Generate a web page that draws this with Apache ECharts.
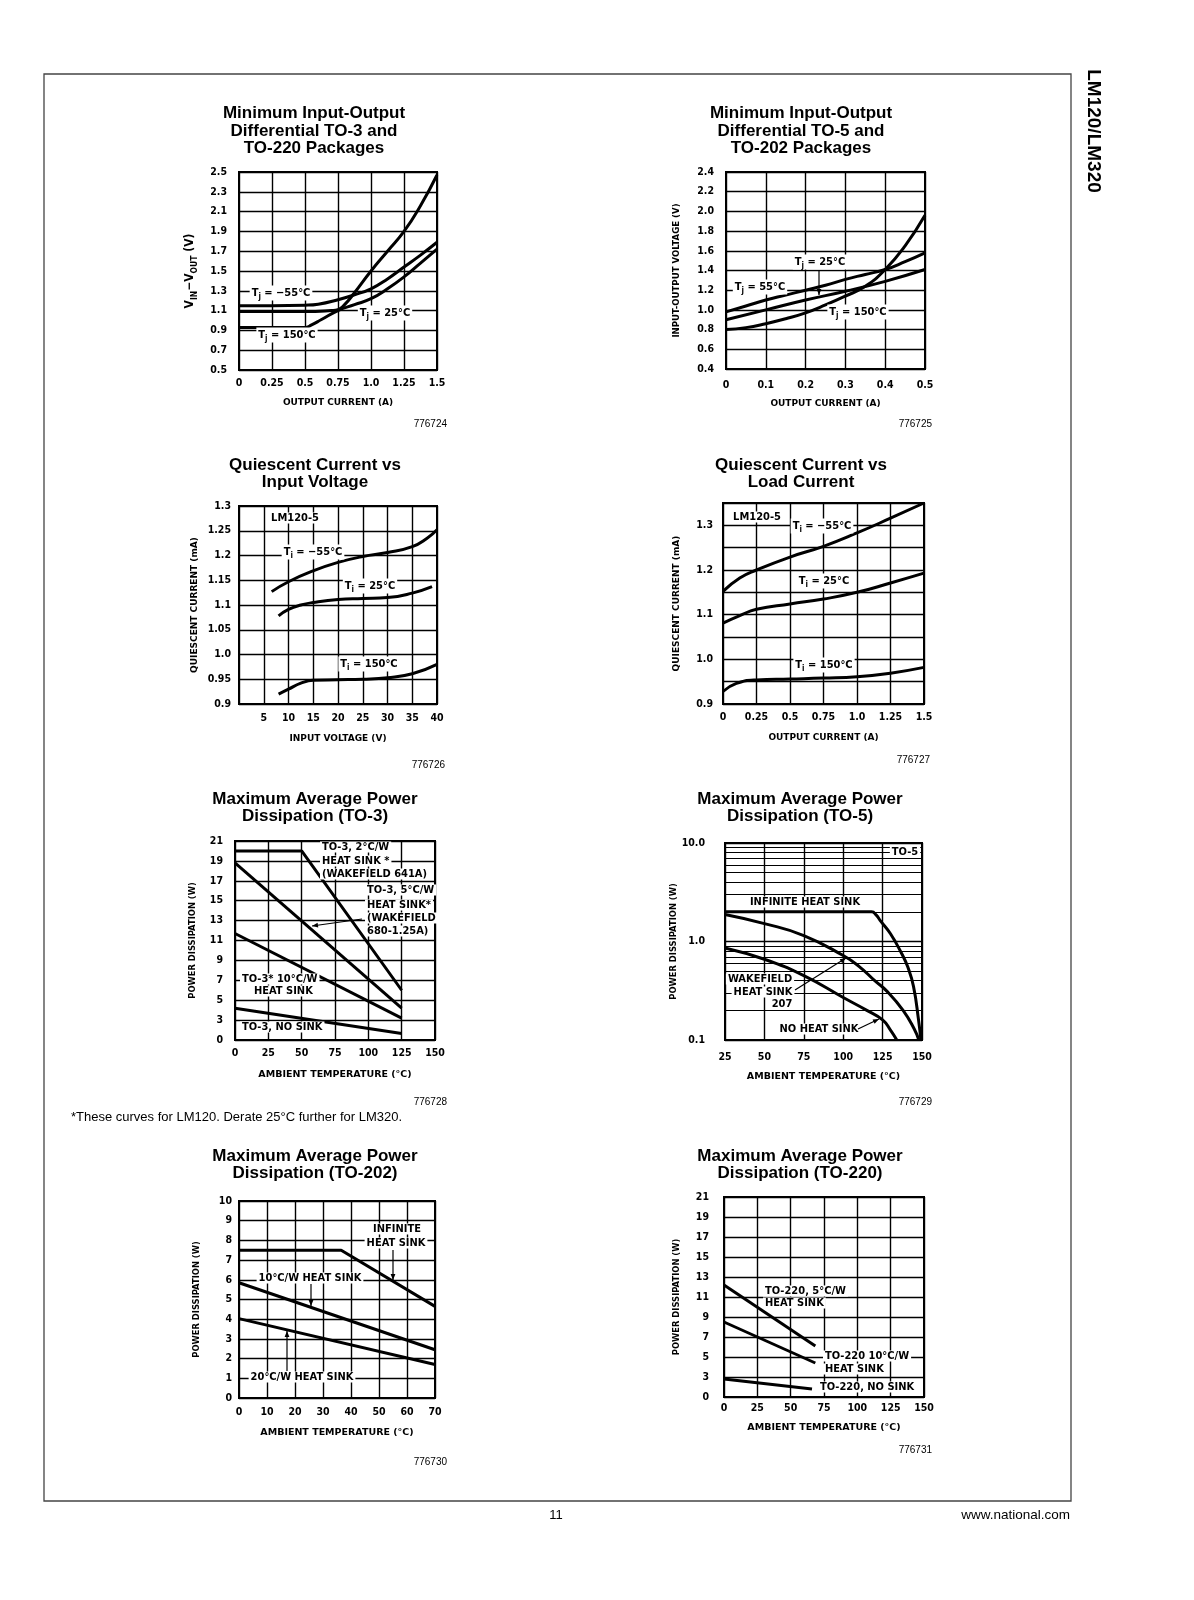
<!DOCTYPE html>
<html><head><meta charset="utf-8">
<script src="https://cdn.jsdelivr.net/npm/echarts@6/dist/echarts.min.js"></script>
<style>html,body{margin:0;padding:0;background:#fff}#c{width:1194px;height:1600px}</style>
</head><body><div id="c"></div>
<script>
// ---------- DATA ----------
// Chart 1: Minimum Input-Output Differential TO-3 / TO-220  (x: output current A, y: V)
const c1_m55  = [[0,1.15],[0.25,1.15],[0.5,1.155],[0.6,1.165],[0.75,1.21],[0.875,1.26],[1.0,1.32],[1.125,1.42],[1.25,1.54],[1.375,1.66],[1.5,1.79]];
const c1_t25  = [[0,1.09],[0.5,1.09],[0.7,1.10],[0.75,1.11],[0.8,1.16],[0.875,1.28],[1.0,1.50],[1.125,1.70],[1.25,1.90],[1.375,2.16],[1.5,2.47]];
const c1_t150 = [[0,0.93],[0.5,0.93],[0.55,0.955],[0.625,1.01],[0.75,1.10],[0.875,1.16],[1.0,1.22],[1.125,1.32],[1.25,1.44],[1.375,1.58],[1.5,1.72]];
// Chart 2: Minimum Input-Output Differential TO-5 / TO-202
const c2_t55  = [[0,0.98],[0.05,1.04],[0.1,1.10],[0.15,1.15],[0.2,1.20],[0.25,1.25],[0.3,1.31],[0.35,1.36],[0.4,1.41],[0.45,1.49],[0.5,1.58]];
const c2_t25  = [[0,0.90],[0.1,1.00],[0.2,1.10],[0.3,1.19],[0.4,1.29],[0.5,1.41]];
const c2_t150 = [[0,0.80],[0.05,0.82],[0.1,0.86],[0.15,0.91],[0.2,0.97],[0.25,1.05],[0.3,1.14],[0.35,1.24],[0.4,1.41],[0.45,1.65],[0.5,1.96]];
// Chart 3: Quiescent Current vs Input Voltage (x: V, y: mA)
const c3_m55  = [[6.6,1.127],[10,1.147],[15,1.169],[20,1.186],[25,1.198],[30,1.206],[35,1.218],[38,1.235],[40,1.252]];
const c3_t25  = [[8,1.078],[10,1.091],[12.5,1.10],[15,1.105],[20,1.111],[25,1.113],[30,1.115],[35,1.124],[39,1.137]];
const c3_t150 = [[8,0.92],[10,0.93],[12.5,0.942],[15,0.948],[20,0.949],[25,0.950],[30,0.953],[35,0.961],[40,0.98]];
// Chart 4: Quiescent Current vs Load Current (x: A, y: mA)
const c4_m55  = [[0,1.152],[0.125,1.182],[0.25,1.20],[0.5,1.229],[0.75,1.253],[1.0,1.283],[1.25,1.316],[1.5,1.35]];
const c4_t25  = [[0,1.081],[0.125,1.098],[0.25,1.112],[0.5,1.124],[0.75,1.135],[1.0,1.15],[1.25,1.171],[1.5,1.193]];
const c4_t150 = [[0,0.928],[0.1,0.946],[0.25,0.954],[0.5,0.956],[0.75,0.958],[1.0,0.961],[1.25,0.969],[1.5,0.982]];
// Chart 5: Max Average Power Dissipation TO-3 (x: °C, y: W)
const c5_hs2    = [[0,20],[50,20],[125,6]];
const c5_hs5    = [[0,18.8],[125,4.2]];
const c5_hs10   = [[0,11.7],[125,3.2]];
const c5_nosink = [[0,4.2],[125,1.65]];
// Chart 6: Max Average Power Dissipation TO-5 (log y)
const c6_inf    = [[25,2.0],[118,2.0],[121,1.85],[123.4,1.64],[130,1.2],[137,0.76],[141,0.55],[144.6,0.35],[147.8,0.16],[149.3,0.1]];
const c6_wake   = [[25,1.88],[50,1.52],[75,1.15],[100,0.72],[110,0.56],[120,0.40],[128,0.31],[138,0.20],[145,0.13],[148,0.1]];
const c6_nosink = [[25,0.86],[50,0.66],[75,0.45],[100,0.27],[115,0.20],[125,0.16],[130,0.126],[134,0.1]];
const c6_minorGrid = [0.2,0.3,0.4,0.5,0.6,0.7,0.8,0.9,2,3,4,5,6,7,8,9];
// Chart 7: Max Average Power Dissipation TO-202
const c7_inf  = [[0,7.5],[36.5,7.5],[70,4.65]];
const c7_hs10 = [[0,5.85],[70,2.45]];
const c7_hs20 = [[0,4.03],[70,1.7]];
// Chart 8: Max Average Power Dissipation TO-220
const c8_hs5    = [[0,12.2],[68.5,6.1]];
const c8_hs10   = [[0,8.5],[68.5,4.4]];
const c8_nosink = [[0,2.8],[66,1.8]];

// ---------- STYLE ----------
const NARROW = "'Liberation Sans Narrow','DejaVu Sans Condensed','Arial Narrow',sans-serif";
const WIDE = "'DejaVu Sans',sans-serif";
const ARIAL = "'Liberation Sans',Arial,sans-serif";

const grids = [
  {left:239, top:172, width:198, height:198},
  {left:726, top:172, width:199, height:197},
  {left:239, top:506, width:198, height:198},
  {left:723, top:503, width:201, height:201},
  {left:235, top:841, width:200, height:199},
  {left:725, top:843, width:197, height:197},
  {left:239, top:1201, width:196, height:197},
  {left:724, top:1197, width:200, height:200}
].map(g => Object.assign({show:true, borderColor:'#000', borderWidth:2, backgroundColor:'transparent'}, g));

const fmtA = v => { if (v === 0) return '0'; const r = Math.round(v*100); return r % 10 === 0 ? v.toFixed(1) : v.toFixed(2); };
const fmt1 = v => v.toFixed(1);
const fmtInt = v => String(Math.round(v));
const fmtZero1 = v => Math.round(v) === 1 ? '0' : String(Math.round(v));

function ax(gi, o) {
  const a = {
    gridIndex: gi, type: o.type || 'value', min: o.min, max: o.max,
    axisLine: {show:false}, axisTick: {show:false},
    splitLine: {show:true, lineStyle:{color:'#000', width:1.4}},
    axisLabel: {color:'#000', fontFamily:NARROW, fontWeight:'bold', fontSize:10.5, margin:o.margin, formatter:o.fmt, showMinLabel:true, showMaxLabel:true},
    name: o.name, nameLocation:'middle', nameGap:o.gap,
    nameTextStyle: Object.assign({color:'#000', fontFamily:WIDE, fontWeight:'bold', fontSize:o.nfs || 9}, o.nts || {})
  };
  if (o.interval !== undefined) a.interval = o.interval;
  if (o.type === 'log') a.logBase = 10;
  return a;
}

const xAxes = [
  ax(0,{min:0,max:1.5,interval:0.25,fmt:fmtA,name:'OUTPUT CURRENT (A)',margin:8,gap:28}),
  ax(1,{min:0,max:0.5,interval:0.1,fmt:v=>v===0?'0':v.toFixed(1),name:'OUTPUT CURRENT (A)',margin:11,gap:30}),
  ax(2,{min:0,max:40,interval:5,fmt:v=>v===0?'':fmtInt(v),name:'INPUT VOLTAGE (V)',margin:9,gap:30}),
  ax(3,{min:0,max:1.5,interval:0.25,fmt:fmtA,name:'OUTPUT CURRENT (A)',margin:8,gap:29}),
  ax(4,{min:0,max:150,interval:25,fmt:fmtInt,name:'AMBIENT TEMPERATURE (°C)',margin:8,gap:30,nfs:9.5}),
  ax(5,{min:25,max:150,interval:25,fmt:fmtInt,name:'AMBIENT TEMPERATURE (°C)',margin:12,gap:32,nfs:9.5}),
  ax(6,{min:0,max:70,interval:10,fmt:fmtInt,name:'AMBIENT TEMPERATURE (°C)',margin:9,gap:30,nfs:9.5}),
  ax(7,{min:0,max:150,interval:25,fmt:fmtInt,name:'AMBIENT TEMPERATURE (°C)',margin:6,gap:26,nfs:9.5})
];
const yAxes = [
  ax(0,{min:0.5,max:2.5,interval:0.2,fmt:fmt1,name:'V{s|IN}−V{s|OUT} (V)',margin:12,gap:40,nfs:12,
        nts:{fontFamily:NARROW, rich:{s:{fontSize:8.5,fontFamily:NARROW,fontWeight:'bold',verticalAlign:'bottom',lineHeight:18}}}}),
  ax(1,{min:0.4,max:2.4,interval:0.2,fmt:fmt1,name:'INPUT-OUTPUT VOLTAGE (V)',margin:12,gap:45,nfs:8.6}),
  ax(2,{min:0.9,max:1.3,interval:0.05,fmt:v=>{const r=Math.round(v*100);return r%10===0?v.toFixed(1):v.toFixed(2);},name:'QUIESCENT CURRENT (mA)',margin:8,gap:40,nfs:9}),
  ax(3,{min:0.9,max:1.35,interval:0.05,fmt:v=>{const r=Math.round(v*100);return r%10===0&&r<=130?v.toFixed(1):'';},name:'QUIESCENT CURRENT (mA)',margin:10,gap:42,nfs:9}),
  ax(4,{min:1,max:21,interval:2,fmt:fmtZero1,name:'POWER DISSIPATION (W)',margin:12,gap:38,nfs:8.4}),
  ax(5,{type:'log',min:0.1,max:10,fmt:fmt1,name:'POWER DISSIPATION (W)',margin:20,gap:44,nfs:8.4}),
  ax(6,{min:0,max:10,interval:1,fmt:fmtInt,name:'POWER DISSIPATION (W)',margin:7,gap:38,nfs:8.4}),
  ax(7,{min:1,max:21,interval:2,fmt:fmtZero1,name:'POWER DISSIPATION (W)',margin:15,gap:43,nfs:8.4})
];

function line(gi, data, smooth, extra) {
  return Object.assign({type:'line', xAxisIndex:gi, yAxisIndex:gi, data:data, showSymbol:false, symbol:'none',
    smooth: smooth ? 0.5 : false, lineStyle:{color:'#000', width:3}, silent:true, z:5}, extra || {});
}

const series = [
  line(0,c1_m55,true), line(0,c1_t25,true), line(0,c1_t150,true),
  line(1,c2_t55,true), line(1,c2_t25,true), line(1,c2_t150,true),
  line(2,c3_m55,true), line(2,c3_t25,true), line(2,c3_t150,true),
  line(3,c4_m55,true), line(3,c4_t25,true), line(3,c4_t150,true),
  line(4,c5_hs2,false), line(4,c5_hs5,false), line(4,c5_hs10,false), line(4,c5_nosink,false),
  line(5,c6_inf,true,{markLine:{silent:true, symbol:'none', label:{show:false}, animation:false,
      lineStyle:{color:'#000', width:1, type:'solid'}, emphasis:{disabled:true},
      data: c6_minorGrid.map(v => ({yAxis:v}))}}),
  line(5,c6_wake,true), line(5,c6_nosink,true),
  line(6,c7_inf,false), line(6,c7_hs10,false), line(6,c7_hs20,false),
  line(7,c8_hs5,false), line(7,c8_hs10,false), line(7,c8_nosink,false)
];

// ---------- TEXT / DECORATION ----------
const G = [];
function txt(x, y, text, o) {
  o = o || {};
  G.push({type:'text', x:x, y:y, z:o.z || 50, rotation:o.rotation || 0, silent:true,
    style:{text:text, fill:'#000', fontFamily:o.ff || NARROW, fontWeight:o.fw || 'bold', fontSize:o.fs || 11,
      align:o.align || 'center', verticalAlign:'middle', lineHeight:o.lh,
      backgroundColor:o.bg === false ? undefined : '#fff', padding:o.bg === false ? 0 : [0,2],
      rich:{s:{fontFamily:NARROW, fontWeight:'bold', fontSize:8, verticalAlign:'bottom', lineHeight:15}}}});
}
function arrow(x1, y1, x2, y2) {
  const a = Math.atan2(y2-y1, x2-x1), L = 6, W = 2.4, c = Math.cos(a), s = Math.sin(a);
  G.push({type:'line', z:55, silent:true, shape:{x1:x1,y1:y1,x2:x2,y2:y2}, style:{stroke:'#000', lineWidth:1.2}});
  G.push({type:'polygon', z:55, silent:true, shape:{points:[[x2,y2],[x2-L*c+W*s,y2-L*s-W*c],[x2-L*c-W*s,y2-L*s+W*c]]}, style:{fill:'#000'}});
}

// page frame, header, footer
G.push({type:'rect', z:1, silent:true, shape:{x:44,y:74,width:1027,height:1427}, style:{fill:'none', stroke:'#444', lineWidth:1.3}});
txt(1093, 131, 'LM120/LM320', {ff:ARIAL, fs:19, rotation:-Math.PI/2, bg:false});
txt(556, 1515, '11', {ff:ARIAL, fw:'normal', fs:13, bg:false});
txt(1070, 1515, 'www.national.com', {ff:ARIAL, fw:'normal', fs:13.5, align:'right', bg:false});
txt(71, 1117, '*These curves for LM120. Derate 25°C further for LM320.', {ff:ARIAL, fw:'normal', fs:13, align:'left', bg:false});

// chart titles
const TT = {ff:ARIAL, fs:17, lh:17.5, bg:false};
txt(314, 131, 'Minimum Input-Output\nDifferential TO-3 and\nTO-220 Packages', TT);
txt(801, 131, 'Minimum Input-Output\nDifferential TO-5 and\nTO-202 Packages', TT);
txt(315, 474, 'Quiescent Current vs\nInput Voltage', TT);
txt(801, 474, 'Quiescent Current vs\nLoad Current', TT);
txt(315, 808, 'Maximum Average Power\nDissipation (TO-3)', TT);
txt(800, 808, 'Maximum Average Power\nDissipation (TO-5)', TT);
txt(315, 1165, 'Maximum Average Power\nDissipation (TO-202)', TT);
txt(800, 1165, 'Maximum Average Power\nDissipation (TO-220)', TT);

// figure numbers
const FN = {ff:ARIAL, fw:'normal', fs:10, align:'right', bg:false};
txt(447, 424, '776724', FN); txt(932, 424, '776725', FN);
txt(445, 765, '776726', FN); txt(930, 760, '776727', FN);
txt(447, 1102, '776728', FN); txt(932, 1102, '776729', FN);
txt(447, 1462, '776730', FN); txt(932, 1450, '776731', FN);

// chart 1 annotations
txt(281, 293, 'T{s|j} = −55°C'); txt(385, 313, 'T{s|j} = 25°C'); txt(287, 335, 'T{s|j} = 150°C');
// chart 2
txt(820, 262, 'T{s|j} = 25°C'); txt(760, 287, 'T{s|j} = 55°C'); txt(858, 312, 'T{s|j} = 150°C');
arrow(819, 270, 819, 295);
// chart 3
txt(295, 518, 'LM120-5'); txt(313, 552, 'T{s|i} = −55°C'); txt(370, 586, 'T{s|i} = 25°C'); txt(369, 664, 'T{s|i} = 150°C');
// chart 4
txt(757, 517, 'LM120-5'); txt(822, 526, 'T{s|i} = −55°C'); txt(824, 581, 'T{s|i} = 25°C'); txt(824, 665, 'T{s|i} = 150°C');
// chart 5
const L = {align:'left'};
txt(320, 847, 'TO-3, 2°C/W', L); txt(320, 861, 'HEAT SINK *', L); txt(320, 874, '(WAKEFIELD 641A)', L);
txt(365, 890, 'TO-3, 5°C/W', L); txt(365, 905, 'HEAT SINK*', L); txt(365, 918, '(WAKEFIELD', L); txt(365, 931, '680-1.25A)', L);
txt(240, 979, 'TO-3* 10°C/W', L); txt(252, 991, 'HEAT SINK', L); txt(240, 1027, 'TO-3, NO SINK', L);
arrow(362, 919, 312, 926);
// chart 6
txt(905, 852, 'TO-5'); txt(805, 902, 'INFINITE HEAT SINK');
txt(760, 979, 'WAKEFIELD'); txt(763, 992, 'HEAT SINK'); txt(782, 1004, '207'); txt(819, 1029, 'NO HEAT SINK');
arrow(795, 990, 846, 958); arrow(858, 1029, 879, 1019);
// chart 7
txt(397, 1229, 'INFINITE'); txt(396, 1243, 'HEAT SINK'); txt(310, 1278, '10°C/W HEAT SINK'); txt(302, 1377, '20°C/W HEAT SINK');
arrow(393, 1250, 393, 1280); arrow(311, 1284, 311, 1306); arrow(287, 1371, 287, 1331);
// chart 8
txt(763, 1291, 'TO-220, 5°C/W', L); txt(763, 1303, 'HEAT SINK', L);
txt(823, 1356, 'TO-220 10°C/W', L); txt(823, 1369, 'HEAT SINK', L); txt(818, 1387, 'TO-220, NO SINK', L);

const chart = echarts.init(document.getElementById('c'), null, {renderer:'canvas'});
chart.setOption({
  animation:false, backgroundColor:'#fff',
  grid: grids, xAxis: xAxes, yAxis: yAxes, series: series, graphic: G
});
</script></body></html>
